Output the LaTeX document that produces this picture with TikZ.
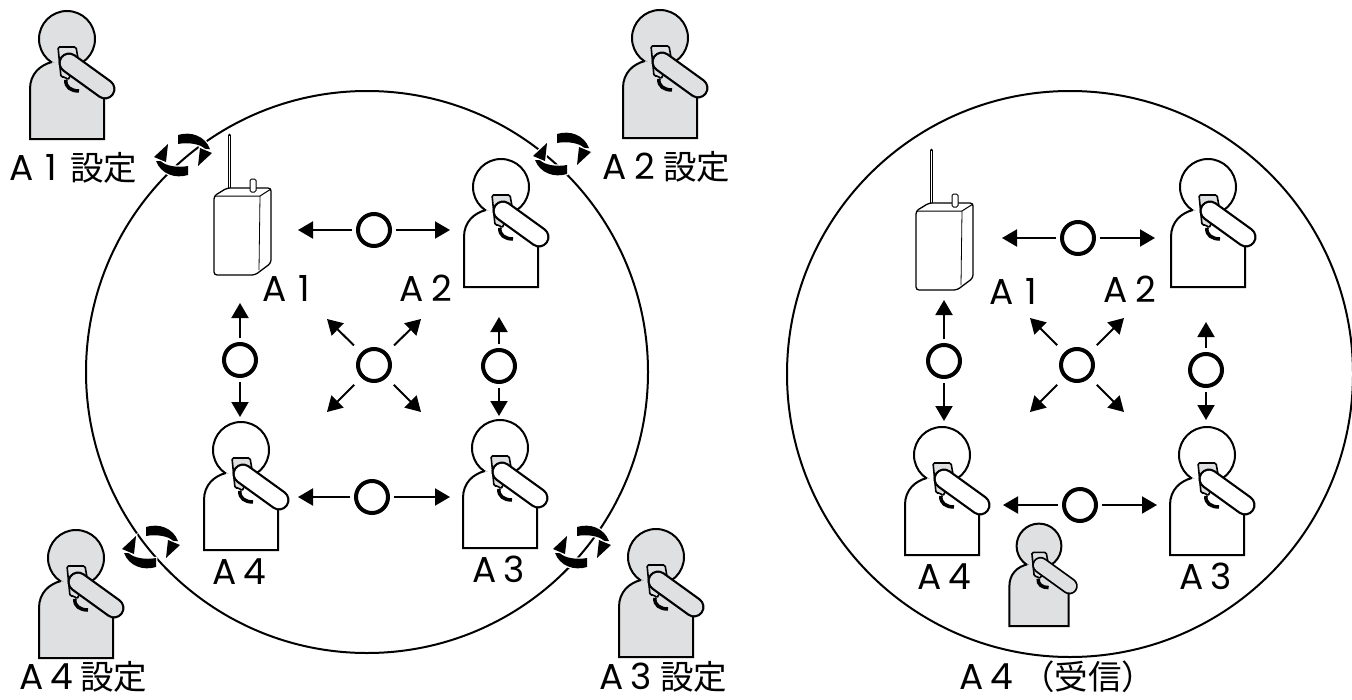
\documentclass[tikz,border=0pt]{standalone}
\usepackage{fontspec}
\setmainfont{Noto Sans CJK JP}
\newfontfamily\latinfont{Poppins}
\newcommand{\unitname}[1]{{\fontsize{36}{36}\latinfont A\makebox[36pt]{#1}}}
\usetikzlibrary{arrows.meta}
\definecolor{persongrey}{HTML}{DFE0E1}
\tikzset{
    okmark/.style={draw, circle, line width=4pt, minimum size=32pt, inner sep=0pt, outer sep=6pt},
    link/.style={line width=2pt, -{Triangle[width=17pt,length=15pt]}},
    diag/.style={link, shorten <=6pt},
    tag/.style={font=\fontsize{33.5}{33.5}\selectfont, inner sep=0pt, anchor=base west},
    pics/person/.style 2 args={code={
        \begin{scope}[scale=#2]
            \draw[line width=2pt, fill=#1] (0,0) circle (28);
            \fill[#1] (-37,100) -- (-37,50) .. controls (-37,35) and (-27,26) .. (-15,23) -- (10,28) -- (37,50) -- (37,100) -- cycle;
            \draw[line width=2pt] (37,50) -- (37,100) -- (-37,100) -- (-37,50) .. controls (-37,35) and (-27,26) .. (-15,23);
            \draw[line width=1.6pt, fill=persongrey, rounded corners=1.5pt] (-9,8) -- (9,8) -- (12,25) -- (3,37) -- (1,41) -- (-2,38) -- (-6,38) -- cycle;
            \draw[line width=3.5pt] (-1,41) .. controls (-2,48) and (4,52) .. (12,52);
            \draw[line width=#2*21pt, line cap=round] (2,24) -- (38,50);
            \draw[line width=#2*16.5pt, line cap=round, #1] (2,24) -- (38,50);
        \end{scope}
    }},
    pics/radio/.style={code={
        \draw[line width=3pt, line cap=round] (15,-60) -- (15,-4);
        \draw[line width=1pt, white] (15,-59) -- (15,-5);
        \draw[line width=1.3pt, fill=white, rounded corners=3pt] (0,1) -- (13,-7) -- (57,-7) -- (57,68) -- (41,80) -- (0,80) -- cycle;
        \draw[line width=1pt, fill=white, rounded corners=1.5pt] (36,-3) -- (36,-16) -- (42,-16) -- (42,-3) -- cycle;
        \draw[line width=1pt] (1,1) -- (46,1) -- (57,-6);
        \draw[line width=.8pt] (46,1) -- (45,75);
    }},
    halo/.style={preaction={draw=white, line width=2.5pt}},
    pics/turn/.style={code={
        \foreach \ang in {0,180}{
            \begin{scope}[rotate=\ang]
                \fill[halo] (-5,-20) .. controls (8,-24) and (22,-19) .. (27,-6) -- (22,-6) .. controls (18,-11) and (5,-13) .. (-5,-11) -- cycle;
                \fill[halo] (29,-2) -- (17,-7) -- (15,11) -- cycle;
            \end{scope}
        }
    }}
}

\begin{document}
\begin{tikzpicture}[x=1pt, y=-1pt]
    \useasboundingbox (0,0) rectangle (1352,699);

    \draw[line width=2pt] (367,372) circle (281);
    \draw[line width=2pt] (1070,374) circle (283);

    \pic at (67,39) {person={persongrey}{1}};
    \pic at (660,38) {person={persongrey}{1}};
    \pic at (76,558) {person={persongrey}{1}};
    \pic at (656,557) {person={persongrey}{1}};

    \pic at (183,155) {turn};
    \pic at (562,154) {turn};
    \pic at (151,547) {turn};
    \pic at (582,547) {turn};

    \node[tag] (set1) at (9,180) {\unitname{1}\kern1pt 設定};
    \node[tag] (set2) at (602,179) {\unitname{2}\kern1pt 設定};
    \node[tag] (set4) at (19,689) {\unitname{4}\kern1pt 設定};
    \node[tag] (set3) at (599,689) {\unitname{3}\kern1pt 設定};

    \pic at (214,195) {radio};
    \pic at (501,187) {person={white}{1}};
    \pic at (241,450) {person={white}{1}};
    \pic at (500,448) {person={white}{1}};

    \node[tag] (lab1) at (262,301) {\unitname{1}};
    \node[tag] (lab2) at (399,301) {\unitname{2}};
    \node[tag] (lab4) at (212,584) {\unitname{4}};
    \node[tag] (lab3) at (472,582) {\unitname{3}};

    \node[okmark] (top) at (374,230) {};
    \node[okmark] (bot) at (372,497) {};
    \node[okmark] (lft) at (240,360) {};
    \node[okmark] (rgt) at (499,366) {};
    \node[okmark] (mid) at (374,365) {};

    \coordinate (topl) at (298,230);
    \coordinate (topr) at (450,230);
    \coordinate (botl) at (298,497);
    \coordinate (botr) at (450,497);
    \coordinate (lftu) at (240,303);
    \coordinate (lftd) at (240,417);
    \coordinate (rgtu) at (499,317);
    \coordinate (rgtd) at (499,416);
    \coordinate (midnw) at (327,319);
    \coordinate (midne) at (421,319);
    \coordinate (midsw) at (327,412);
    \coordinate (midse) at (421,412);

    \draw[link] (top) -- (topl);
    \draw[link] (top) -- (topr);
    \draw[link] (bot) -- (botl);
    \draw[link] (bot) -- (botr);
    \draw[link] (lft) -- (lftu);
    \draw[link] (lft) -- (lftd);
    \draw[link] (rgt) -- (rgtu);
    \draw[link] (rgt) -- (rgtd);
    \draw[diag] (mid) -- (midnw);
    \draw[diag] (mid) -- (midne);
    \draw[diag] (mid) -- (midsw);
    \draw[diag] (mid) -- (midse);

    \pic at (916,210) {radio};
    \pic at (1208,187) {person={white}{1}};
    \pic at (942,455) {person={white}{1}};
    \pic at (1207,455) {person={white}{1}};
    \pic at (1039,546) {person={persongrey}{.8}};

    \node[tag] (rlab1) at (989,304) {\unitname{1}};
    \node[tag] (rlab2) at (1103,302) {\unitname{2}};
    \node[tag] (rlab4) at (917,589) {\unitname{4}};
    \node[tag] (rlab3) at (1179,589) {\unitname{3}};
    \node[tag] (recv) at (959,689) {\unitname{4}\kern2pt（受信）};

    \node[okmark] (rtop) at (1078,238) {};
    \node[okmark] (rbot) at (1080,505) {};
    \node[okmark] (rlft) at (944,361) {};
    \node[okmark] (rrgt) at (1206,370) {};
    \node[okmark] (rmid) at (1077,365) {};

    \coordinate (rtopl) at (1002,238);
    \coordinate (rtopr) at (1155,238);
    \coordinate (rbotl) at (1003,505);
    \coordinate (rbotr) at (1157,505);
    \coordinate (rlftu) at (944,300);
    \coordinate (rlftd) at (944,421);
    \coordinate (rrgtu) at (1206,322);
    \coordinate (rrgtd) at (1206,420);
    \coordinate (rmidnw) at (1030,318);
    \coordinate (rmidne) at (1124,318);
    \coordinate (rmidsw) at (1030,412);
    \coordinate (rmidse) at (1124,412);

    \draw[link] (rtop) -- (rtopl);
    \draw[link] (rtop) -- (rtopr);
    \draw[link] (rbot) -- (rbotl);
    \draw[link] (rbot) -- (rbotr);
    \draw[link] (rlft) -- (rlftu);
    \draw[link] (rlft) -- (rlftd);
    \draw[link] (rrgt) -- (rrgtu);
    \draw[link] (rrgt) -- (rrgtd);
    \draw[diag] (rmid) -- (rmidnw);
    \draw[diag] (rmid) -- (rmidne);
    \draw[diag] (rmid) -- (rmidsw);
    \draw[diag] (rmid) -- (rmidse);
\end{tikzpicture}
\end{document}
